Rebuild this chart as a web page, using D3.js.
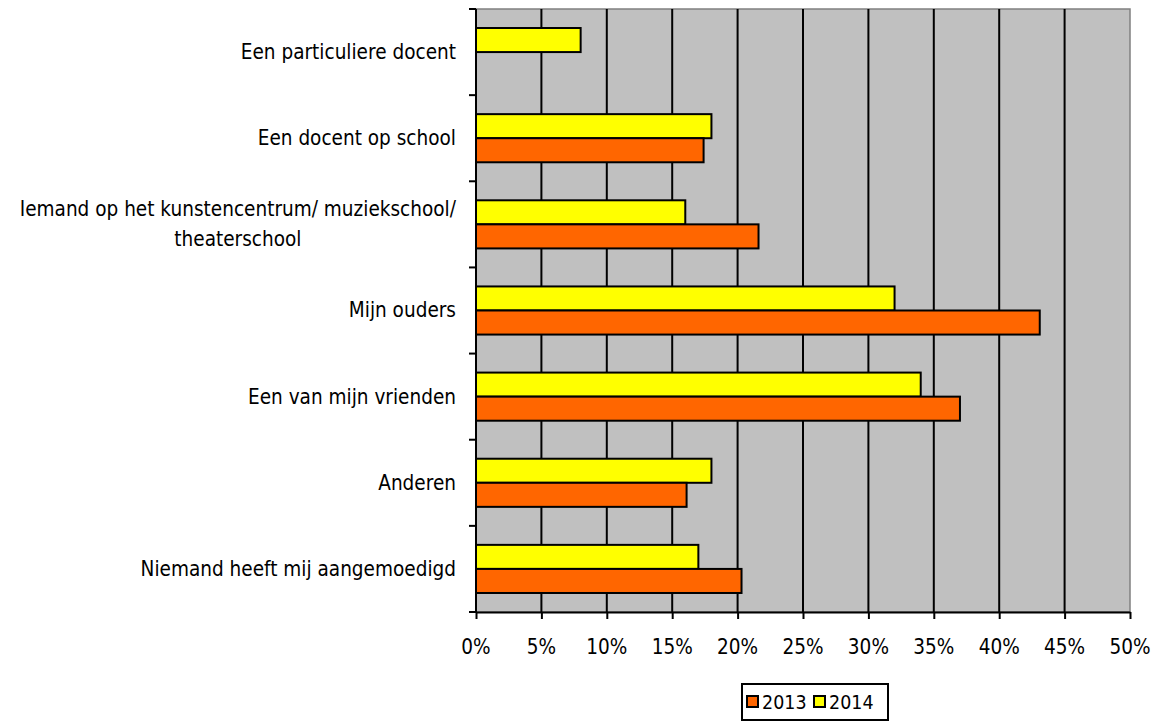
<!DOCTYPE html>
<html>
<head>
<meta charset="utf-8">
<script src="https://cdn.jsdelivr.net/npm/d3@7/dist/d3.min.js"></script>
<style>
  html, body { margin: 0; padding: 0; background: #ffffff; }
  svg { display: block; }
  text { font-family: "DejaVu Sans", Verdana, sans-serif; fill: #000; }
</style>
</head>
<body>
<svg id="chart" width="1159" height="724"></svg>
<script>
// Categories (top to bottom) and their share per survey year (percent)
const categories = [
  "Een particuliere docent",
  "Een docent op school",
  "Iemand op het kunstencentrum/ muziekschool/\ntheaterschool",
  "Mijn ouders",
  "Een van mijn vrienden",
  "Anderen",
  "Niemand heeft mij aangemoedigd"
];
const values2014 = [8, 18, 16, 32, 34, 18, 17];
const values2013 = [null, 17.4, 21.6, 43.1, 37, 16.1, 20.3];
const seriesNames = ["2014", "2013"];          // drawing order inside each band
const legendOrder = ["2013", "2014"];
const xTicks = [0, 5, 10, 15, 20, 25, 30, 35, 40, 45, 50];
const colors = { "2013": "#FF6600", "2014": "#FFFF00" };

const svg = d3.select("#chart");
const plot = { left: 476, right: 1130, top: 9, bottom: 612 };
const fontSize = 18.5;
const stretchY = 1.15;   // glyphs are drawn slightly taller than wide

// text placed at (x, y) with its vertical centre on y
function label(parent, x, y, str, anchor, size) {
  const g = parent.append("g")
    .attr("transform", `translate(${x},${y}) scale(1,${stretchY})`);
  return g.append("text")
    .attr("text-anchor", anchor)
    .attr("dominant-baseline", "central")
    .style("font-size", (size || fontSize) + "px")
    .text(str);
}

const x = d3.scaleLinear().domain([0, 50]).range([plot.left, plot.right]);
const y = d3.scaleBand().domain(categories).range([plot.top, plot.bottom]).padding(0);
const inner = d3.scaleBand().domain(seriesNames)
  .range([0, y.bandwidth()]).paddingOuter(0.79).paddingInner(0);

const seriesData = { "2014": values2014, "2013": values2013 };

// plot background
svg.append("rect")
  .attr("x", plot.left).attr("y", plot.top)
  .attr("width", plot.right - plot.left).attr("height", plot.bottom - plot.top)
  .attr("fill", "#C0C0C0").attr("stroke", "#808080").attr("stroke-width", 1.5);

// vertical gridlines
svg.append("g").selectAll("line")
  .data(xTicks.slice(1, -1))
  .join("line")
  .attr("x1", d => x(d)).attr("x2", d => x(d))
  .attr("y1", plot.top).attr("y2", plot.bottom)
  .attr("stroke", "#000").attr("stroke-width", 2);

// bars
const groups = svg.append("g").selectAll("g")
  .data(categories)
  .join("g")
  .attr("transform", d => `translate(0,${y(d)})`);

groups.selectAll("rect")
  .data((c, i) => seriesNames
    .map(s => ({ s, v: seriesData[s][i] }))
    .filter(d => d.v != null))
  .join("rect")
  .attr("x", x(0))
  .attr("y", d => inner(d.s))
  .attr("width", d => x(d.v) - x(0))
  .attr("height", inner.bandwidth())
  .attr("fill", d => colors[d.s])
  .attr("stroke", "#000").attr("stroke-width", 2);

// x axis (labels drawn separately so they can share the label style)
const xAxis = d3.axisBottom(x)
  .tickValues(xTicks)
  .tickFormat("")
  .tickSize(7)
  .tickSizeOuter(0);
const gx = svg.append("g")
  .attr("transform", `translate(0,${plot.bottom})`)
  .call(xAxis);
gx.select(".domain").attr("stroke", "#000").attr("stroke-width", 2);
gx.selectAll(".tick line").attr("stroke", "#000").attr("stroke-width", 2);
xTicks.forEach(t => label(svg, x(t), plot.bottom + 35, t + "%", "middle"));

// y axis: ticks at band boundaries
const boundaries = categories.map(c => y(c)).concat([plot.bottom]);
const gy = svg.append("g");
gy.append("line")
  .attr("x1", plot.left).attr("x2", plot.left)
  .attr("y1", plot.top).attr("y2", plot.bottom + 1)
  .attr("stroke", "#000").attr("stroke-width", 2);
gy.selectAll(".yt")
  .data(boundaries)
  .join("line")
  .attr("class", "yt")
  .attr("x1", plot.left - 7).attr("x2", plot.left)
  .attr("y1", d => d).attr("y2", d => d)
  .attr("stroke", "#000").attr("stroke-width", 2);

// category labels, right aligned; wrapped lines are centred on each other
const labelRight = 456;
const lineH = 30;
categories.forEach(c => {
  const lines = c.split("\n");
  const cy = y(c) + y.bandwidth() / 2;
  if (lines.length === 1) {
    label(svg, labelRight, cy, c, "end");
  } else {
    const texts = lines.map((ln, i) =>
      label(svg, 0, cy + (i - (lines.length - 1) / 2) * lineH, ln, "middle"));
    const w = d3.max(texts, t => t.node().getComputedTextLength());
    texts.forEach((t, i) => d3.select(t.node().parentNode)
      .attr("transform",
        `translate(${labelRight - w / 2},${cy + (i - (lines.length - 1) / 2) * lineH}) scale(1,${stretchY})`));
  }
});

// legend
const lg = svg.append("g").attr("transform", "translate(742,684)");
lg.append("rect")
  .attr("width", 146).attr("height", 36)
  .attr("fill", "#fff").attr("stroke", "#000").attr("stroke-width", 2);
const items = lg.selectAll("g.item")
  .data(legendOrder)
  .join("g")
  .attr("class", "item")
  .attr("transform", (d, i) => `translate(${5 + i * 67},12)`);
items.append("rect")
  .attr("width", 11).attr("height", 11)
  .attr("fill", d => colors[d])
  .attr("stroke", "#000").attr("stroke-width", 2);
items.each(function (d) {
  label(d3.select(this), 15, 6, d, "start", 17.5);
});
</script>
</body>
</html>
